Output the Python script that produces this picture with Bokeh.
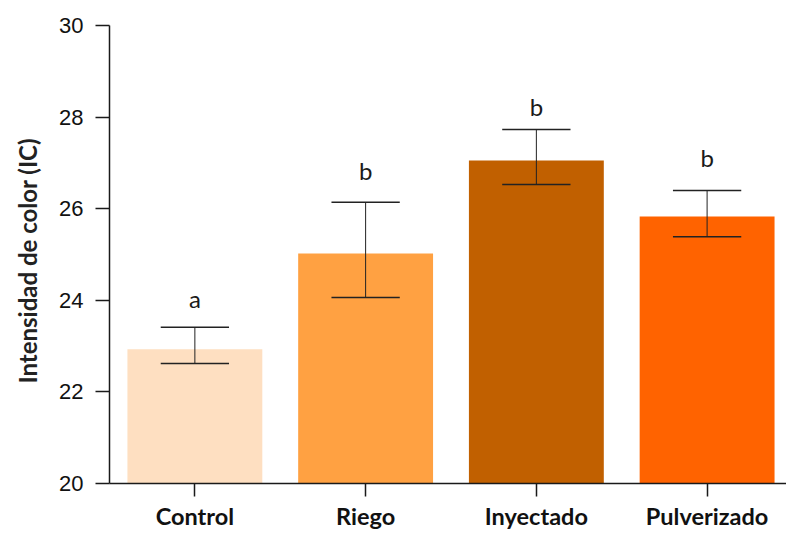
from bokeh.plotting import figure
from bokeh.models import ColumnDataSource, FixedTicker, Range1d, Title
from bokeh.core.properties import value
from bokeh.embed import file_html
from bokeh.resources import INLINE

categories = ["Control", "Riego", "Inyectado", "Pulverizado"]
means = [22.93, 25.02, 27.05, 25.83]
err_low = [22.62, 24.06, 26.53, 25.39]
err_high = [23.41, 26.14, 27.73, 26.40]
letters = ["a", "b", "b", "b"]
letter_y = [24.04, 26.84, 28.24, 27.11]
colors = ["#FEDFC1", "#FFA142", "#C16000", "#FF6300"]
y_ticks = [20, 22, 24, 26, 28, 30]
y_title = "Intensidad de color (IC)"

xs = list(range(len(categories)))
cap = 0.2
src = ColumnDataSource(dict(
    x=xs, top=means, lo=err_low, hi=err_high, color=colors,
    x0=[x - cap for x in xs], x1=[x + cap for x in xs],
    lab=letters, ly=letter_y,
))

p = figure(width=786, height=533, output_backend="svg", toolbar_location=None,
           x_range=Range1d(-0.5, 3.465), y_range=Range1d(20, 30),
           min_border_left=108, min_border_top=25, min_border_bottom=50, min_border_right=0)
p.outline_line_color = None
p.xgrid.visible = False
p.ygrid.visible = False
p.background_fill_color = "white"
p.border_fill_color = "white"

p.vbar(x="x", top="top", bottom=20, width=0.79, color="color", line_color=None, source=src)
p.segment(x0="x", x1="x", y0="lo", y1="hi", line_color="#222222", line_width=1, source=src)
p.segment(x0="x0", x1="x1", y0="hi", y1="hi", line_color="#222222", line_width=1.5, source=src)
p.segment(x0="x0", x1="x1", y0="lo", y1="lo", line_color="#222222", line_width=1.5, source=src)
p.text(x="x", y="ly", text="lab", source=src, text_align="center", text_baseline="alphabetic",
       text_font=value("Lato"), text_font_size="24px", text_color="#1a1a1a")

# y axis
ya = p.yaxis[0]
ya.ticker = FixedTicker(ticks=y_ticks)
ya.minor_tick_line_color = None
ya.major_tick_out = 14
ya.major_tick_in = 0
ya.axis_line_width = 1.5
ya.major_tick_line_width = 1.5
ya.axis_line_color = "#1a1a1a"
ya.major_tick_line_color = "#1a1a1a"
ya.major_label_text_font = "Liberation Sans"
ya.major_label_text_font_size = "22px"
ya.major_label_text_color = "#111111"
ya.major_label_standoff = 12

title = Title(text=y_title, align="left", offset=100, standoff=25, vertical_align="top",
              text_font="Lato", text_font_size="24px", text_font_style="bold",
              text_color="#222222")
p.add_layout(title, "left")

# x axis
xa = p.xaxis[0]
xa.ticker = FixedTicker(ticks=xs)
xa.major_label_overrides = {i: c for i, c in enumerate(categories)}
xa.minor_tick_line_color = None
xa.major_tick_out = 13
xa.major_tick_in = 0
xa.axis_line_width = 1.5
xa.major_tick_line_width = 1.5
xa.axis_line_color = "#1a1a1a"
xa.major_tick_line_color = "#1a1a1a"
xa.major_label_text_font = "Lato"
xa.major_label_text_font_size = "23.5px"
xa.major_label_text_font_style = "bold"
xa.major_label_text_color = "#111111"
xa.major_label_standoff = 5

open("out.html", "w").write(file_html(p, INLINE))
